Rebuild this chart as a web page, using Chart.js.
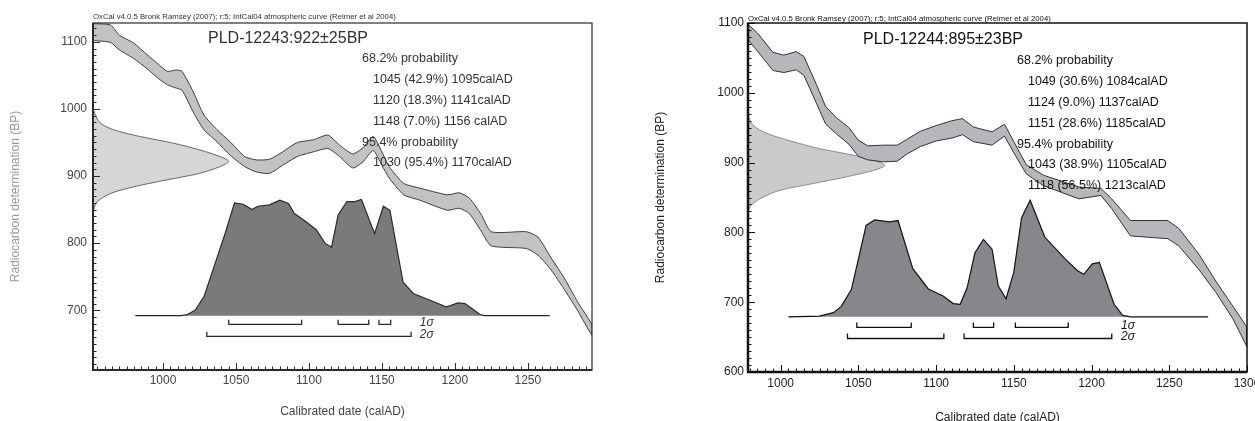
<!DOCTYPE html>
<html>
<head>
<meta charset="utf-8">
<script src="https://cdn.jsdelivr.net/npm/chart.js@4.4.0/dist/chart.umd.min.js"></script>
<style>
  body { margin: 0; background: #fff; }
  #wrap { position: relative; width: 1255px; height: 421px; }
  #leftChart { position: absolute; left: 0; top: 0; }
  #rightChart { position: absolute; left: 620px; top: 0; }
</style>
</head>
<body>
<div id="wrap">
  <canvas id="leftChart" width="620" height="421"></canvas>
  <canvas id="rightChart" width="635" height="421"></canvas>
</div>
<script>
Chart.defaults.font.family = 'Arial, "Liberation Sans", sans-serif';

var sourceLine = "OxCal v4.0.5 Bronk Ramsey (2007); r:5; IntCal04 atmospheric curve (Reimer et al 2004)";

// ---- PLD-12243 (left panel) ----
var leftTitle = "PLD-12243:922\u00b125BP";
var leftRanges = ["68.2% probability", "1045 (42.9%) 1095calAD", "1120 (18.3%) 1141calAD",
  "1148 (7.0%) 1156 calAD", "95.4% probability", "1030 (95.4%) 1170calAD"];
// calibration curve band (calAD, upper BP, lower BP)
var leftBandYears = [952, 964, 970, 980, 989, 997, 1003, 1009, 1013, 1021, 1028, 1037, 1046, 1056, 1064, 1073, 1082, 1092, 1103, 1113,
  1121, 1130, 1137, 1144, 1150, 1155, 1165, 1176, 1195, 1203, 1210, 1218, 1225, 1249, 1257, 1266, 1275, 1284, 1294];
var leftBandUpper = [1127, 1125, 1110, 1098, 1081, 1066, 1056, 1058, 1056, 1024, 991, 969, 951, 929, 924, 925, 936, 950, 954, 961,
  946, 933, 942, 959, 936, 914, 889, 882, 872, 875, 867, 843, 817, 817, 809, 778, 748, 713, 678];
var leftBandLower = [1102, 1099, 1088, 1075, 1060, 1045, 1036, 1031, 1028, 994, 969, 951, 931, 914, 906, 904, 916, 929, 936, 941,
  929, 912, 921, 938, 916, 897, 872, 864, 849, 852, 844, 818, 796, 792, 782, 760, 731, 700, 663];
// radiocarbon measurement on the y axis (how far right it reaches, BP)
var leftDateYears = [952, 953.5, 957, 966, 984, 1007, 1025, 1039, 1045, 1039, 1025, 1002, 980, 964, 955, 952.5, 952];
var leftDateBP = [1000, 992, 979, 969, 959, 949, 939, 929, 922, 914, 904, 894, 884, 874, 862, 850, 840];
// calibrated distribution, top edge in BP units above the baseline
var leftBaseline = 692;
var leftCalYears = [981, 1012, 1016, 1022, 1028, 1034.5, 1042.5, 1049, 1055, 1061, 1065, 1073, 1080, 1086, 1090, 1098, 1105, 1111,
  1115.5, 1120, 1126, 1131.5, 1136, 1145, 1151, 1155.5, 1164.5, 1171.5, 1183, 1194, 1197, 1202, 1207, 1217, 1220, 1265];
var leftCalBP = [692, 692, 693, 700, 720, 762, 814, 860, 858, 850, 855, 857, 864, 859, 844, 832, 820, 800,
  794, 842, 862, 862, 865, 814, 855, 849, 742, 725, 715, 705, 707, 711, 710, 694, 692, 692];
var leftSigma1 = [[1045, 1095], [1120, 1141], [1148, 1156]];
var leftSigma2 = [[1030, 1170]];

// ---- PLD-12244 (right panel) ----
var rightTitle = "PLD-12244:895\u00b123BP";
var rightRanges = ["68.2% probability", "1049 (30.6%) 1084calAD", "1124 (9.0%) 1137calAD", "1151 (28.6%) 1185calAD",
  "95.4% probability", "1043 (38.9%) 1105calAD", "1118 (56.5%) 1213calAD"];
var rightBandYears = [979, 985, 995, 1002, 1010, 1015, 1023, 1029, 1036, 1044, 1050, 1056, 1066, 1075, 1081, 1090, 1100, 1110,
  1117, 1124, 1136, 1144, 1150, 1158, 1169, 1192, 1206, 1213, 1225, 1249, 1256, 1269, 1280, 1291, 1300];
var rightBandUpper = [1098, 1086, 1058, 1054, 1059, 1052, 1012, 980, 964, 950, 932, 924, 925, 925, 933, 945, 953, 960,
  963, 951, 944, 955, 930, 897, 882, 865, 863, 848, 817, 817, 806, 769, 730, 694, 664];
var rightBandLower = [1076, 1060, 1032, 1029, 1033, 1025, 985, 955, 941, 926, 909, 904, 901, 902, 912, 923, 931, 935,
  940, 930, 925, 938, 914, 884, 867, 848, 853, 834, 795, 791, 781, 747, 714, 676, 636];
var rightDateYears = [979, 982, 991, 1008, 1025, 1047, 1060, 1067, 1060, 1042, 1021, 999, 986.5, 981, 979];
var rightDateBP = [968, 954, 942, 930, 920, 910.5, 903, 896, 889, 879.5, 870, 860, 848, 838.5, 830];
var rightBaseline = 679;
var rightCalYears = [1005, 1025, 1034, 1039, 1045.5, 1055, 1060.5, 1070, 1075.5, 1085, 1095, 1104.5, 1111, 1115.5, 1120, 1125,
  1130.5, 1136, 1140, 1145, 1150, 1155, 1160.5, 1170, 1183, 1191, 1195, 1200.5, 1205, 1214.5, 1220, 1225, 1275];
var rightCalBP = [679, 680, 685, 694, 718, 810, 818, 815, 817, 748, 719, 709, 698, 697, 721, 771,
  790, 776, 723, 705, 743, 821, 846, 793, 762, 745, 740, 755, 757, 697, 681, 679, 679];
var rightSigma1 = [[1049, 1084], [1124, 1137], [1151, 1185]];
var rightSigma2 = [[1043, 1105], [1118, 1213]];

function xyPoints(xs, ys) {
  var pts = [];
  for (var i = 0; i < xs.length; i++) pts.push({x: xs[i], y: ys[i]});
  return pts;
}

// upper edge left to right, lower edge back again: one closed shape
function bandPoints(years, upper, lower) {
  var pts = xyPoints(years, upper);
  for (var j = years.length - 1; j >= 0; j--) pts.push({x: years[j], y: lower[j]});
  return pts;
}

function bracketPoints(ranges, level, tickTop) {
  var pts = [];
  ranges.forEach(function (r) {
    pts.push({x: r[0], y: tickTop}, {x: r[0], y: level}, {x: r[1], y: level}, {x: r[1], y: tickTop}, {x: r[1], y: null});
  });
  return pts;
}

// inward ticks (every 5 yr / 10 BP) and the box round the plot
var frameTicks = {
  id: 'frameTicks',
  afterDatasetsDraw: function (chart, args, o) {
    var ctx = chart.ctx, a = chart.chartArea, xs = chart.scales.x, ys = chart.scales.y;
    ctx.save();
    ctx.strokeStyle = o.color;
    ctx.lineWidth = 1;
    ctx.beginPath();
    for (var v = Math.ceil(xs.min / 5) * 5; v <= xs.max; v += 5) {
      var px = Math.round(xs.getPixelForValue(v)) + 0.5;
      ctx.moveTo(px, a.bottom);
      ctx.lineTo(px, a.bottom - (v % 50 === 0 ? o.major : o.minor));
    }
    for (var w = Math.ceil(ys.min / 10) * 10; w <= ys.max; w += 10) {
      var py = Math.round(ys.getPixelForValue(w)) + 0.5;
      ctx.moveTo(a.left, py);
      ctx.lineTo(a.left + (w % 100 === 0 ? o.major : o.minor), py);
    }
    ctx.stroke();
    ctx.lineWidth = o.frameWidth;
    ctx.strokeRect(a.left, a.top, a.right - a.left, a.bottom - a.top);
    ctx.lineWidth = o.axisWidth;
    ctx.beginPath();
    ctx.moveTo(a.left, a.top);
    ctx.lineTo(a.left, a.bottom);
    ctx.lineTo(a.right, a.bottom);
    ctx.stroke();
    ctx.restore();
  }
};

var notes = {
  id: 'notes',
  afterDraw: function (chart, args, o) {
    var ctx = chart.ctx, a = chart.chartArea, xs = chart.scales.x, ys = chart.scales.y;
    ctx.save();
    ctx.fillStyle = o.color;
    ctx.textBaseline = 'middle';
    ctx.textAlign = 'left';
    ctx.font = o.headerFont;
    ctx.fillText(sourceLine, a.left, a.top - o.headerGap);
    ctx.font = o.titleFont;
    ctx.fillText(o.title, a.left + o.titleDx, a.top + o.titleDy);
    ctx.font = o.rangeFont;
    o.ranges.forEach(function (t, i) {
      var indent = t.indexOf('probability') >= 0 ? 0 : o.indent;
      ctx.fillText(t, a.left + o.rangeDx + indent, a.top + o.rangeDy + i * o.lineGap);
    });
    ctx.font = o.sigmaFont;
    o.sigma.forEach(function (s) {
      ctx.fillText(s[0], xs.getPixelForValue(s[1]), ys.getPixelForValue(s[2]));
    });
    ctx.restore();
  }
};

function makePanel(id, p) {
  var ctx = document.getElementById(id).getContext('2d');
  return new Chart(ctx, {
    type: 'scatter',
    data: {
      datasets: [{
        data: bracketPoints(p.sigma1, p.s1, p.s1 + 7),
        showLine: true, borderColor: p.ink, borderWidth: 1.3, pointRadius: 0, spanGaps: false, order: 0
      }, {
        data: bracketPoints(p.sigma2, p.s2, p.s2 + 7),
        showLine: true, borderColor: p.ink, borderWidth: 1.3, pointRadius: 0, spanGaps: false, order: 0
      }, {
        data: xyPoints(p.calYears, p.calBP),
        showLine: true, borderColor: p.ink, borderWidth: 1.2, pointRadius: 0,
        backgroundColor: p.calFill, fill: {value: p.baseline}, order: 1
      }, {
        data: bandPoints(p.bandYears, p.bandUpper, p.bandLower),
        showLine: true, borderColor: p.bandLine, borderWidth: 1, pointRadius: 0, tension: p.bandTension,
        backgroundColor: p.bandFill, fill: 'shape', order: 2
      }, {
        data: xyPoints(p.dateYears, p.dateBP),
        showLine: true, borderColor: p.dateLine, borderWidth: 1, pointRadius: 0, tension: 0.3,
        backgroundColor: p.dateFill, fill: 'shape', order: 3
      }]
    },
    options: {
      responsive: false,
      animation: false,
      events: [],
      devicePixelRatio: 1,
      layout: {padding: {left: 0, top: 23, right: p.padRight, bottom: 0}},
      scales: {
        x: {
          type: 'linear', min: p.xMin, max: p.xMax,
          grid: {display: false, drawTicks: false}, border: {display: false},
          ticks: {stepSize: 50, includeBounds: false, padding: p.xTickPad, color: p.tickColor, font: {size: 12},
            maxRotation: 0, callback: function (v) { return String(v); }},
          title: {display: true, text: 'Calibrated date (calAD)', color: p.tickColor, font: {size: 12},
            padding: {top: 0, bottom: p.xTitlePad}},
          afterFit: function (s) { s.height = p.xHeight; s.paddingLeft = 0; s.paddingRight = 0; }
        },
        y: {
          type: 'linear', min: p.yMin, max: p.yMax,
          grid: {display: false, drawTicks: false}, border: {display: false},
          ticks: {stepSize: 100, includeBounds: false, padding: p.yTickPad, color: p.tickColor, font: {size: 12},
            callback: function (v) { return String(v); }},
          title: {display: true, text: 'Radiocarbon determination (BP)', color: p.yTitleColor, font: {size: 12},
            padding: {top: p.yTitlePad, bottom: 0}},
          afterFit: function (s) { s.width = p.yWidth; }
        }
      },
      plugins: {
        legend: {display: false},
        tooltip: {enabled: false},
        frameTicks: {color: p.ink, major: 7, minor: 3.5, frameWidth: p.frameWidth, axisWidth: p.axisWidth},
        notes: {
          color: p.textColor, headerFont: '7.75px Arial, "Liberation Sans", sans-serif', headerGap: p.headerGap,
          title: p.title, titleFont: '16px Arial, "Liberation Sans", sans-serif', titleDx: 115, titleDy: p.titleDy,
          ranges: p.ranges, rangeFont: '12.5px Arial, "Liberation Sans", sans-serif',
          rangeDx: 269, rangeDy: p.rangeDy, indent: 11, lineGap: 20.8,
          sigmaFont: 'italic 12px Arial, "Liberation Sans", sans-serif',
          sigma: [["1\u03c3", p.sigmaX, p.s1 + 3], ["2\u03c3", p.sigmaX, p.s2 + 3]]
        }
      }
    },
    plugins: [frameTicks, notes]
  });
}

makePanel('leftChart', {
  title: leftTitle, ranges: leftRanges,
  bandYears: leftBandYears, bandUpper: leftBandUpper, bandLower: leftBandLower,
  dateYears: leftDateYears, dateBP: leftDateBP,
  calYears: leftCalYears, calBP: leftCalBP, baseline: leftBaseline,
  sigma1: leftSigma1, sigma2: leftSigma2, s1: 679, s2: 661, sigmaX: 1176,
  xMin: 952, xMax: 1294, yMin: 611, yMax: 1128,
  padRight: 28, xHeight: 51, yWidth: 93, xTickPad: 3, yTickPad: 6, xTitlePad: 2, yTitlePad: 8,
  ink: '#2a2a2a', textColor: '#333', tickColor: '#444', yTitleColor: '#999',
  bandFill: '#c2c2c2', bandLine: '#3c3c3c', bandTension: 0.2,
  dateFill: '#d6d6d6', dateLine: '#666',
  calFill: '#7a7a7a',
  frameWidth: 1.2, axisWidth: 2, headerGap: 6, titleDy: 16, rangeDy: 36
});

makePanel('rightChart', {
  title: rightTitle, ranges: rightRanges,
  bandYears: rightBandYears, bandUpper: rightBandUpper, bandLower: rightBandLower,
  dateYears: rightDateYears, dateBP: rightDateBP,
  calYears: rightCalYears, calBP: rightCalBP, baseline: rightBaseline,
  sigma1: rightSigma1, sigma2: rightSigma2, s1: 664, s2: 648, sigmaX: 1219,
  xMin: 979, xMax: 1300, yMin: 600, yMax: 1100,
  padRight: 8, xHeight: 49, yWidth: 128, xTickPad: 4, yTickPad: 4, xTitlePad: -4, yTitlePad: 33,
  ink: '#111', textColor: '#111', tickColor: '#222', yTitleColor: '#222',
  bandFill: '#b6b7ba', bandLine: '#333', bandTension: 0,
  dateFill: '#c9cacc', dateLine: '#8a8a8a',
  calFill: '#86878a',
  frameWidth: 1.5, axisWidth: 2.5, headerGap: 4, titleDy: 17, rangeDy: 38
});
</script>
</body>
</html>
